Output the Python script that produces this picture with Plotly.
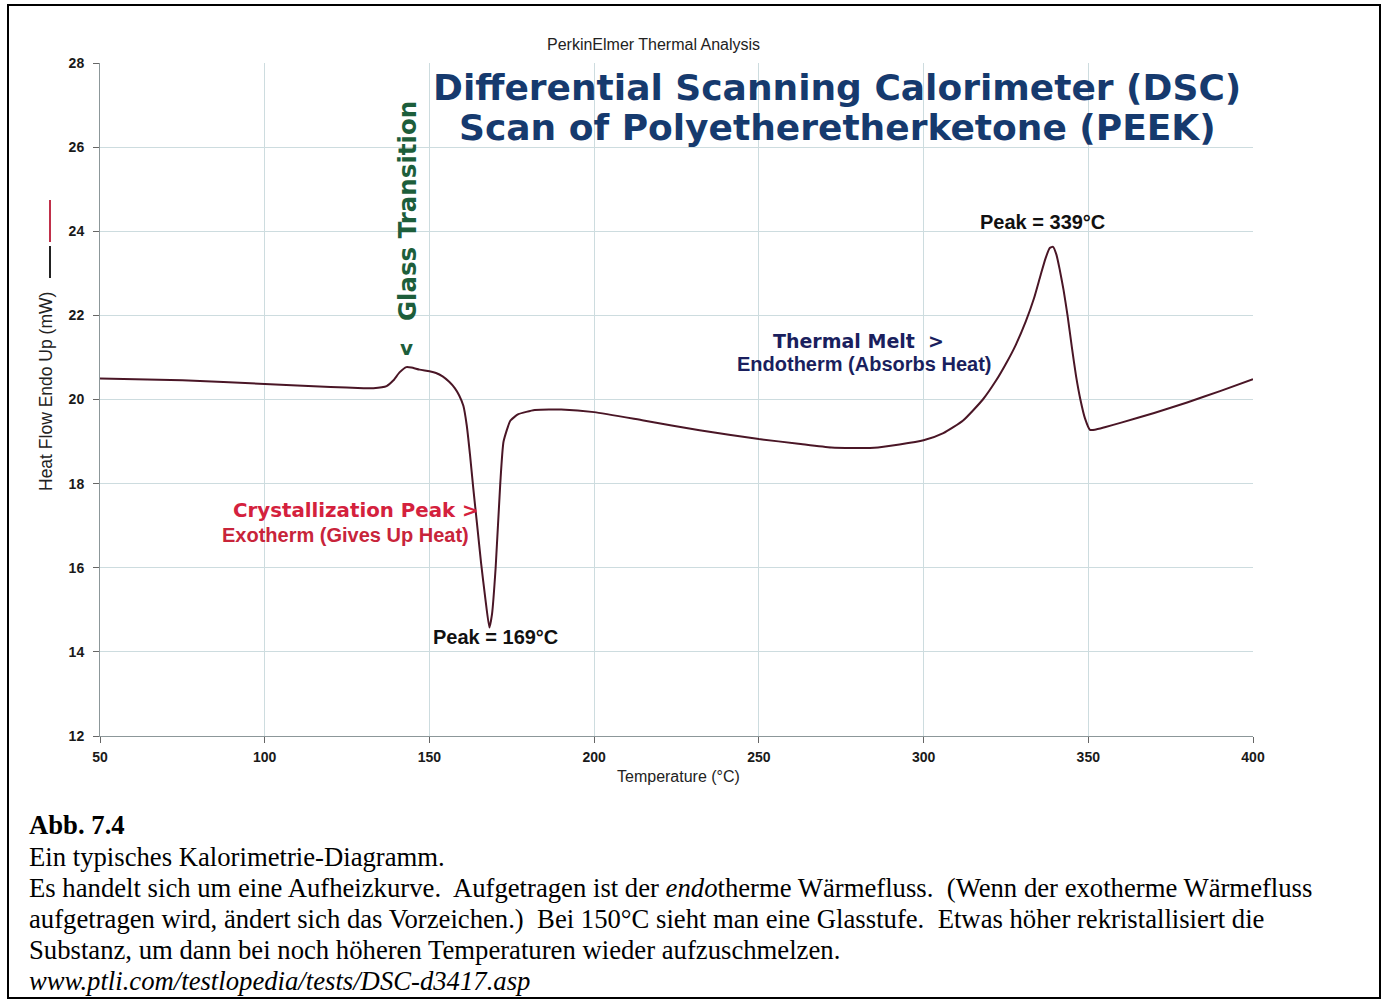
import plotly.graph_objects as go

# DSC scan of PEEK
temperature = [50, 75, 100, 120, 130, 133, 137, 139, 141, 143, 144.5, 147, 150, 152, 154,
               156, 157.7, 159, 160.3, 161.3, 162.3, 163.3, 164.5, 165.7, 167, 168.2, 169,
               170.1, 171.5, 172.5, 174.6, 177, 182, 190, 200, 215, 232, 250, 262, 272,
               285, 300, 306, 312, 318, 322, 325, 328, 331, 333.5, 335.5, 337, 338.3,
               339.3, 340.3, 341.3, 342.5, 343.7, 345, 346.3, 347.6, 349, 350.5, 352,
               355, 360, 370, 380, 390, 400]
heat_flow = [20.50, 20.46, 20.37, 20.30, 20.27, 20.27, 20.32, 20.45, 20.65, 20.77, 20.76,
             20.71, 20.67, 20.63, 20.55, 20.42, 20.27, 20.10, 19.85, 19.40, 18.70, 17.90,
             17.00, 16.10, 15.25, 14.58, 14.90, 16.00, 18.00, 19.00, 19.50, 19.65, 19.75,
             19.76, 19.70, 19.50, 19.27, 19.06, 18.95, 18.86, 18.85, 19.03, 19.20, 19.50,
             20.00, 20.45, 20.85, 21.30, 21.85, 22.40, 22.95, 23.35, 23.60, 23.63, 23.45,
             23.10, 22.60, 22.00, 21.25, 20.55, 20.00, 19.55, 19.28, 19.28, 19.34, 19.45,
             19.68, 19.93, 20.20, 20.48]

x_ticks = [50, 100, 150, 200, 250, 300, 350, 400]
y_ticks = [12, 14, 16, 18, 20, 22, 24, 26, 28]

W, H = 1387, 1005
L, R, T, B = 100, 1253, 63, 736


# pixel position -> paper coordinates
def px(x):
    return (x - L) / (R - L)


def py(y):
    return (B - y) / (B - T)


SANS = "Liberation Sans, Arial"
HEAVY = "DejaVu Sans, Liberation Sans"
SERIF = "Liberation Serif, Times New Roman"

fig = go.Figure()
fig.add_trace(go.Scatter(
    x=temperature, y=heat_flow, mode='lines',
    line=dict(color='#4a1626', width=2, shape='spline', smoothing=0.5),
    hoverinfo='x+y', showlegend=False
))


def note(text, x, y, size, color, family=SANS, angle=0, xanchor='center'):
    fig.add_annotation(text=text, x=px(x), y=py(y), xref='paper', yref='paper',
                       showarrow=False, textangle=angle, xanchor=xanchor, yanchor='middle',
                       font=dict(family=family, size=size, color=color))


note("PerkinElmer Thermal Analysis", 653, 44, 16, '#222222')
note("<b>Differential Scanning Calorimeter (DSC)</b>", 837, 88, 36, '#163a6e', family=HEAVY)
note("<b>Scan of Polyetheretherketone (PEEK)</b>", 837, 127, 36, '#163a6e', family=HEAVY)
note("<b>Glass Transition</b>", 407, 211, 24.5, '#1d5e3b', family=HEAVY, angle=-90)
note("<b>v</b>", 406, 348, 20, '#1d5e3b', family=HEAVY)
note("<b>Crystallization Peak ></b>", 356, 510, 19.8, '#d4213d', family=HEAVY)
note("<b>Exotherm (Gives Up Heat)</b>", 345, 535, 20, '#c8243a')
note("<b>Peak = 169°C</b>", 495, 637, 20, '#111111')
note("<b>Peak = 339°C</b>", 1042, 222, 20, '#111111')
note("<b>Thermal Melt  ></b>", 858, 341, 19, '#1a1f5e', family=HEAVY)
note("<b>Endotherm (Absorbs Heat)</b>", 864, 364, 20, '#1a1f5e')
note("Heat Flow Endo Up (mW)", 46, 392, 17.5, '#222222', angle=-90)
note("Temperature (°C)", 678, 776, 16, '#222222')

# caption below the chart
note("<b>Abb. 7.4</b>", 27, 825, 26.7, '#000000', family=SERIF, xanchor='left')
caption = [
    "Ein typisches Kalorimetrie-Diagramm.",
    "Es handelt sich um eine Aufheizkurve.\u00a0 Aufgetragen ist der <i>endo</i>therme Wärmefluss.\u00a0 (Wenn der exotherme Wärmefluss",
    "aufgetragen wird, ändert sich das Vorzeichen.)\u00a0 Bei 150°C sieht man eine Glasstufe.\u00a0 Etwas höher rekristallisiert die",
    "Substanz, um dann bei noch höheren Temperaturen wieder aufzuschmelzen.",
    "<i>www.ptli.com/testlopedia/tests/DSC-d3417.asp</i>",
]
for i, line in enumerate(caption):
    note(line, 27, 857 + i * 31, 26.7, '#000000', family=SERIF, xanchor='left')

# legend strokes next to the y title (red + dark)
fig.add_shape(type='line', xref='paper', yref='paper',
              x0=px(50), x1=px(50), y0=py(200), y1=py(242),
              line=dict(color='#c0304a', width=2))
fig.add_shape(type='line', xref='paper', yref='paper',
              x0=px(50), x1=px(50), y0=py(246), y1=py(278),
              line=dict(color='#222222', width=2))
# page frame
fig.add_shape(type='rect', xref='paper', yref='paper',
              x0=px(8), x1=px(1380), y0=py(998), y1=py(5),
              line=dict(color='#000000', width=2))

axis_style = dict(showgrid=True, gridcolor='#cddcdf', showline=True, linecolor='#8c9799',
                  ticks='outside', ticklen=6, tickcolor='#666666', zeroline=False,
                  tickfont=dict(family=SANS, size=14, color='#1a1a1a', weight='bold'))
fig.update_xaxes(range=[50, 400], tickvals=x_ticks, ticklabelstandoff=2, **axis_style)
fig.update_yaxes(range=[12, 28], tickvals=y_ticks, ticklabelstandoff=6, **axis_style)

fig.update_layout(
    width=W, height=H,
    margin=dict(l=L, r=W - R, t=T, b=H - B),
    paper_bgcolor='white', plot_bgcolor='white',
    showlegend=False
)

fig.write_html("out.html", config={'displayModeBar': False},
               post_script="document.body.style.margin='0px';")
